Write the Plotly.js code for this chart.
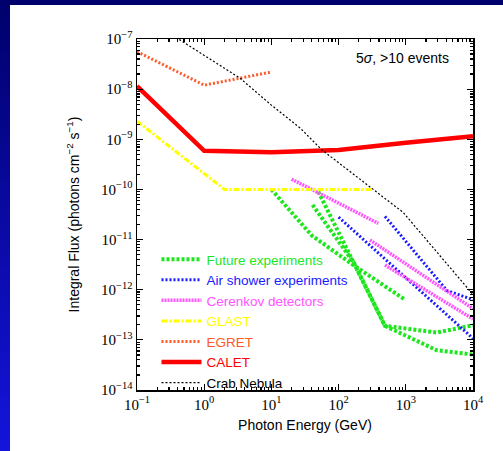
<!DOCTYPE html>
<html>
<head>
<meta charset="utf-8">
<script src="https://cdn.plot.ly/plotly-3.0.1.min.js"></script>
<style>
html,body{margin:0;padding:0;width:503px;height:451px;overflow:hidden;background:linear-gradient(to bottom,#00006c,#1414dc);}
#bg{position:absolute;left:10px;top:5px;width:493px;height:446px;background:#ffffff;}
#plot{position:absolute;left:0;top:0;width:503px;height:451px;}
</style>
</head>
<body>
<div id="bg"></div>
<div id="plot"></div>
<script>
// ---- data (energy in GeV, integral flux in photons cm^-2 s^-1) ----
const futureA_E = [10, 40, 166, 980];
const futureA_F = [1e-10, 1.2e-11, 3.1e-12, 6.3e-13];
const futureB_E = [41, 170, 490, 2900, 10000];
const futureB_F = [4.9e-11, 3.4e-12, 1.9e-13, 1.4e-13, 1.95e-13];
const futureC_E = [50, 170, 490, 2900, 10000];
const futureC_F = [9e-11, 3.4e-12, 1.9e-13, 6.2e-14, 5.1e-14];

const air1_E = [100, 10000];
const air1_F = [2.8e-11, 1.07e-13];
const air2_E = [490, 4100, 10000];
const air2_F = [2.9e-11, 9.6e-13, 6.3e-13];

const cer1_E = [20, 390];
const cer1_F = [1.6e-10, 2.1e-11];
const cer2_E = [293, 10000];
const cer2_F = [9.8e-12, 4.2e-13];
const cer3_E = [490, 10000];
const cer3_F = [3.1e-12, 2.6e-13];

const glast_E = [0.1, 1, 2, 310];
const glast_F = [2.3e-9, 2.1e-10, 1e-10, 1e-10];

const egret_E = [0.1, 1, 10];
const egret_F = [5.6e-8, 1.2e-8, 2.2e-8];

const calet_E = [0.1, 1, 10, 100, 1000, 10000];
const calet_F = [1.15e-8, 5.9e-10, 5.5e-10, 6.1e-10, 8.5e-10, 1.15e-9];

const crab_E = [0.3, 0.44, 3.4, 10, 27, 56, 520, 910, 10000];
const crab_F = [1.3e-7, 9.5e-8, 1.66e-8, 4.8e-9, 1.66e-9, 6.2e-10, 6.2e-11, 3.5e-11, 8e-13];

const xTickVals = [0.1, 1, 10, 100, 1000, 10000];
const xTickText = ['10<sup>\u22121</sup>', '10<sup>0</sup>', '10<sup>1</sup>', '10<sup>2</sup>', '10<sup>3</sup>', '10<sup>4</sup>'];
const yTickVals = [1e-14, 1e-13, 1e-12, 1e-11, 1e-10, 1e-9, 1e-8, 1e-7];
const yTickText = ['10<sup>\u221214</sup>', '10<sup>\u221213</sup>', '10<sup>\u221212</sup>', '10<sup>\u221211</sup>', '10<sup>\u221210</sup>', '10<sup>\u22129</sup>', '10<sup>\u22128</sup>', '10<sup>\u22127</sup>'];

// join segments with gaps
function join(list) {
  const out = [];
  list.forEach((seg, i) => { if (i) out.push(null); seg.forEach(v => out.push(v)); });
  return out;
}
function minorTicks(lo, hi) {
  const t = [];
  for (let e = lo; e < hi; e++) for (let m = 2; m <= 9; m++) t.push(m * Math.pow(10, e));
  return t;
}
function label(txt, col) { return '<span style="color:' + col + '">' + txt + '</span>'; }

const cGreen = '#1ee61e', cBlue = '#1a1aff', cMag = '#ff55ff', cYel = '#ffff00', cOra = '#ff5a28', cRed = '#ff0000', cBlk = '#000000';

const traces = [
  {x: join([futureA_E, futureB_E, futureC_E]), y: join([futureA_F, futureB_F, futureC_F]),
   name: label('Future experiments', cGreen), line: {color: cGreen, width: 4, dash: '3px,2px'}, legendrank: 1},
  {x: join([air1_E, air2_E]), y: join([air1_F, air2_F]),
   name: label('Air shower experiments', cBlue), line: {color: cBlue, width: 3, dash: '2px,2px'}, legendrank: 2},
  {x: join([cer1_E, cer2_E, cer3_E]), y: join([cer1_F, cer2_F, cer3_F]),
   name: label('Cerenkov detectors', cMag), line: {color: cMag, width: 3.5, dash: '2px,1px'}, legendrank: 3},
  {x: glast_E, y: glast_F,
   name: label('GLAST', cYel), line: {color: cYel, width: 3, dash: '6px,2px,2px,2px'}, legendrank: 4},
  {x: egret_E, y: egret_F,
   name: label('EGRET', cOra), line: {color: cOra, width: 3, dash: '2px,2px'}, legendrank: 5},
  {x: calet_E, y: calet_F,
   name: label('CALET', cRed), line: {color: cRed, width: 4.5}, legendrank: 6},
  {x: crab_E, y: crab_F,
   name: label('Crab Nebula', cBlk), line: {color: cBlk, width: 1.2, dash: '2px,2px'}, legendrank: 7}
].map(t => Object.assign({type: 'scatter', mode: 'lines', connectgaps: false, hoverinfo: 'skip'}, t));

const tickFont = {family: 'Liberation Serif, Times New Roman, serif', size: 15, color: '#000'};
const titleFont = {family: 'Liberation Sans, Arial, sans-serif', size: 14, color: '#000'};

const layout = {
  width: 503, height: 451,
  margin: {l: 137, r: 30, t: 39, b: 61},
  paper_bgcolor: 'rgba(0,0,0,0)',
  plot_bgcolor: '#ffffff',
  showlegend: true,
  legend: {x: 0.058, y: 0.416, xanchor: 'left', yanchor: 'top', bgcolor: 'rgba(0,0,0,0)',
           font: {family: 'Liberation Sans, Arial, sans-serif', size: 13.5}, itemwidth: 40, tracegroupgap: 0},
  xaxis: {type: 'log', range: [-1, 4], tickmode: 'array', tickvals: xTickVals, ticktext: xTickText,
          tickfont: tickFont, ticks: 'inside', ticklen: 6, tickwidth: 1.2, tickcolor: '#000',
          showline: true, linecolor: '#000', linewidth: 1.5, mirror: 'allticks', showgrid: false, zeroline: false,
          minor: {tickmode: 'array', tickvals: minorTicks(-1, 4), ticks: 'inside', ticklen: 3, tickcolor: '#000', showgrid: false},
          title: {text: 'Photon Energy (GeV)', font: titleFont, standoff: 8}},
  yaxis: {type: 'log', range: [-14, -7], tickmode: 'array', tickvals: yTickVals, ticktext: yTickText,
          tickfont: tickFont, ticks: 'inside', ticklen: 6, tickwidth: 1.2, tickcolor: '#000',
          showline: true, linecolor: '#000', linewidth: 1.5, mirror: 'allticks', showgrid: false, zeroline: false,
          minor: {tickmode: 'array', tickvals: minorTicks(-14, -7), ticks: 'inside', ticklen: 3, tickcolor: '#000', showgrid: false},
          title: {text: 'Integral Flux (photons cm<sup>\u22122</sup> s<sup>\u22121</sup>)', font: titleFont, standoff: 18}},
  annotations: [{xref: 'paper', yref: 'paper', x: 0.79, y: 0.946, xanchor: 'center', yanchor: 'middle', showarrow: false,
                 text: '5<i>\u03c3</i>, >10 events', font: {family: 'Liberation Sans, Arial, sans-serif', size: 14, color: '#000'}}]
};

Plotly.newPlot('plot', traces, layout, {displayModeBar: false, staticPlot: true});
</script>
</body>
</html>
